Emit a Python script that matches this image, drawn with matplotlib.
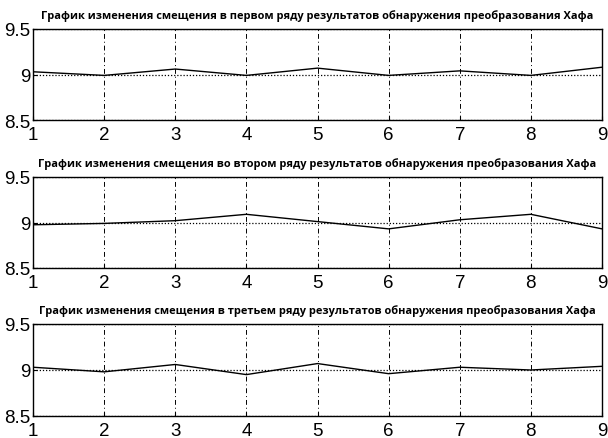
import numpy as np
import matplotlib.pyplot as plt

# positions along the row and offset values for each row
x = [1, 2, 3, 4, 5, 6, 7, 8, 9]
row1 = [9.03, 8.99, 9.06, 8.99, 9.07, 8.99, 9.04, 8.99, 9.08]
row2 = [8.975, 8.99, 9.02, 9.09, 9.01, 8.93, 9.03, 9.09, 8.93]
row3 = [9.03, 8.98, 9.06, 8.95, 9.07, 8.96, 9.03, 9.0, 9.04]
titles = [
    "График изменения смещения в первом ряду результатов обнаружения преобразования Хафа",
    "График изменения смещения во втором ряду результатов обнаружения преобразования Хафа",
    "График изменения смещения в третьем ряду результатов обнаружения преобразования Хафа",
]
yticks = [8.5, 9, 9.5]
ytick_labels = ["8.5", "9", "9.5"]

fig = plt.figure(figsize=(6.08, 4.39), dpi=100)
W, H = 608, 439
# axes boxes in pixels: (left, top, right, bottom)
boxes = [(33, 30, 602, 121), (33, 178, 602, 269), (33, 325, 602, 417)]

tick_font = {"family": "Liberation Sans", "size": 13.5}

for box, data, title in zip(boxes, [row1, row2, row3], titles):
    l, t, r, b = box
    ax = fig.add_axes([l / W, 1 - b / H, (r - l) / W, (b - t) / H])
    ax.plot(x, data, color="black", lw=1.0, zorder=3)
    ax.set_xlim(1, 9)
    ax.set_ylim(8.5, 9.5)
    ax.set_xticks(x)
    ax.set_xticklabels([str(v) for v in x], fontdict=tick_font)
    ax.set_yticks(yticks)
    ax.set_yticklabels(ytick_labels, fontdict=tick_font)
    ax.tick_params(direction="in", length=3, width=0.8)
    ax.tick_params(axis="y", pad=2)
    ax.tick_params(axis="x", pad=4)
    ax.xaxis.grid(True, color="black", lw=0.7, linestyle=(0, (5, 3, 1, 3)))
    ax.yaxis.grid(True, color="black", lw=0.9, linestyle=(0, (1, 1.5)))
    for s in ax.spines.values():
        s.set_linewidth(1.0)
    ax.set_title(title, fontsize=7.9, fontweight="bold", family="Open Sans", pad=8)

fig.savefig("out.png", dpi=100)
